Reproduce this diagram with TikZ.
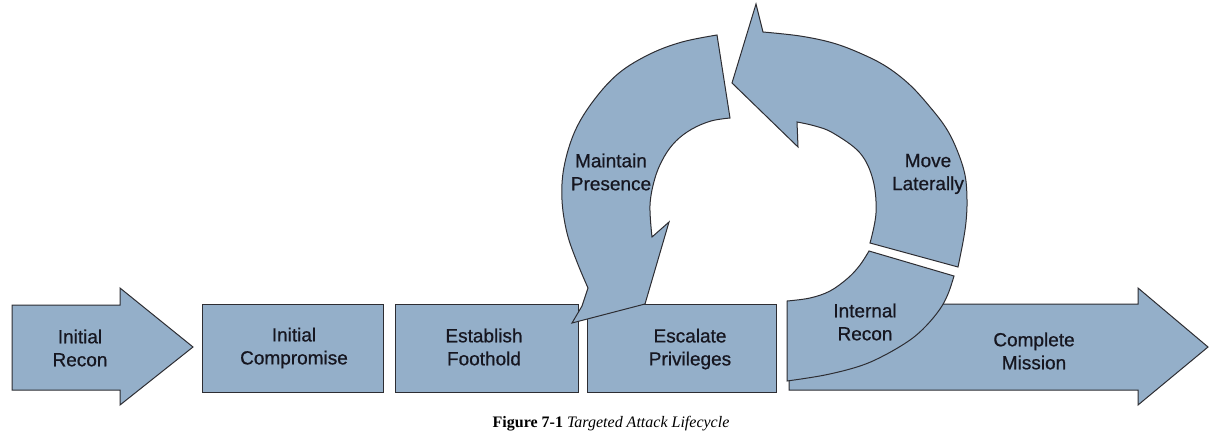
\documentclass[tikz,border=0pt]{standalone}
\usepackage{fontspec}
\setmainfont{Liberation Sans}
\newfontfamily\lblfont[FakeBold=0.7]{Liberation Sans}
\newfontfamily\capfont{Liberation Serif}
\definecolor{stepfill}{RGB}{148,175,201}
\definecolor{stepline}{RGB}{45,45,50}
\definecolor{steptext}{RGB}{22,22,32}
\begin{document}
\begin{tikzpicture}[x=1pt,y=-1pt,
  shapestyle/.style={fill=stepfill,draw=stepline,line width=1pt,line join=miter},
  lbl/.style={text=steptext,align=center,font=\lblfont\fontsize{19}{23}\selectfont,inner sep=0pt},
  caption/.style={font=\capfont\fontsize{16}{18}\selectfont,inner sep=0pt}]
\useasboundingbox (0,0) rectangle (1228,436);

% Initial Recon arrow
\draw[shapestyle] (12,305) -- (120,305) -- (120,288) -- (193,347) -- (120,405) -- (120,390) -- (12,390) -- cycle;
% boxes
\draw[shapestyle] (202,304) rectangle (383,392);
\draw[shapestyle] (395,304) rectangle (578,392);
\draw[shapestyle] (587,304) rectangle (776,392);
% Complete Mission arrow
\draw[shapestyle] (789,304) -- (1138,304) -- (1138,288) -- (1208,347) -- (1138,405) -- (1138,390) -- (789,390) -- cycle;
% Internal Recon segment
\draw[shapestyle] (787,301) -- plot[smooth,tension=0.6] coordinates {(787,301) (810,298) (830,291) (848,278) (860,265) (869,251)}
  -- (954,276)
  -- plot[smooth,tension=0.6] coordinates {(954,276) (948,294) (940,309) (926,326) (910,340) (885,355) (860,366) (825,375) (787,381)}
  -- cycle;
% Move Laterally arrow
\draw[shapestyle] (732,83) -- (756,4) -- (763,32)
  -- plot[smooth,tension=0.6] coordinates {(763,32) (800,36) (833,43) (862,54) (887,67) (910,85) (930,107) (946,128) (957,150) (965,175) (967,200) (966,222) (963,242) (958,267)}
  -- (870,243)
  -- plot[smooth,tension=0.6] coordinates {(870,243) (876,213) (873,180) (860,153) (833,133) (815,126) (797,122)}
  -- (798,147) -- cycle;
% Maintain Presence arrow
\draw[shapestyle] (717,35)
  -- plot[smooth,tension=0.6] coordinates {(717,35) (682,42) (650,54) (619,73) (594,100) (575,131) (564,167) (562,200) (567,233) (577,262) (588,288)}
  -- (582,306) -- (572,323) -- (645,304) -- (669,222) -- (652,237)
  -- plot[smooth,tension=0.6] coordinates {(652,237) (650,205) (655,178) (664,157) (676,141) (692,129) (711,121) (730,118)}
  -- cycle;

% labels
\node[lbl] (ir) at (80,348) {Initial\\Recon};
\node[lbl] (ic) at (294,348) {Initial\\Compromise};
\node[lbl] (ef) at (484,347) {Establish\\Foothold};
\node[lbl] (ep) at (690,349) {Escalate\\Privileges};
\node[lbl] (cm) at (1034,351) {Complete\\Mission};
\node[lbl] (inr) at (865,322) {Internal\\Recon};
\node[lbl] (ml) at (928,174) {Move\\Laterally};
\node[lbl] (mp) at (611,172) {Maintain\\Presence};
\node[caption] (cap) at (611,424) {\textbf{Figure 7-1} \textit{Targeted Attack Lifecycle}};
\end{tikzpicture}
\end{document}
